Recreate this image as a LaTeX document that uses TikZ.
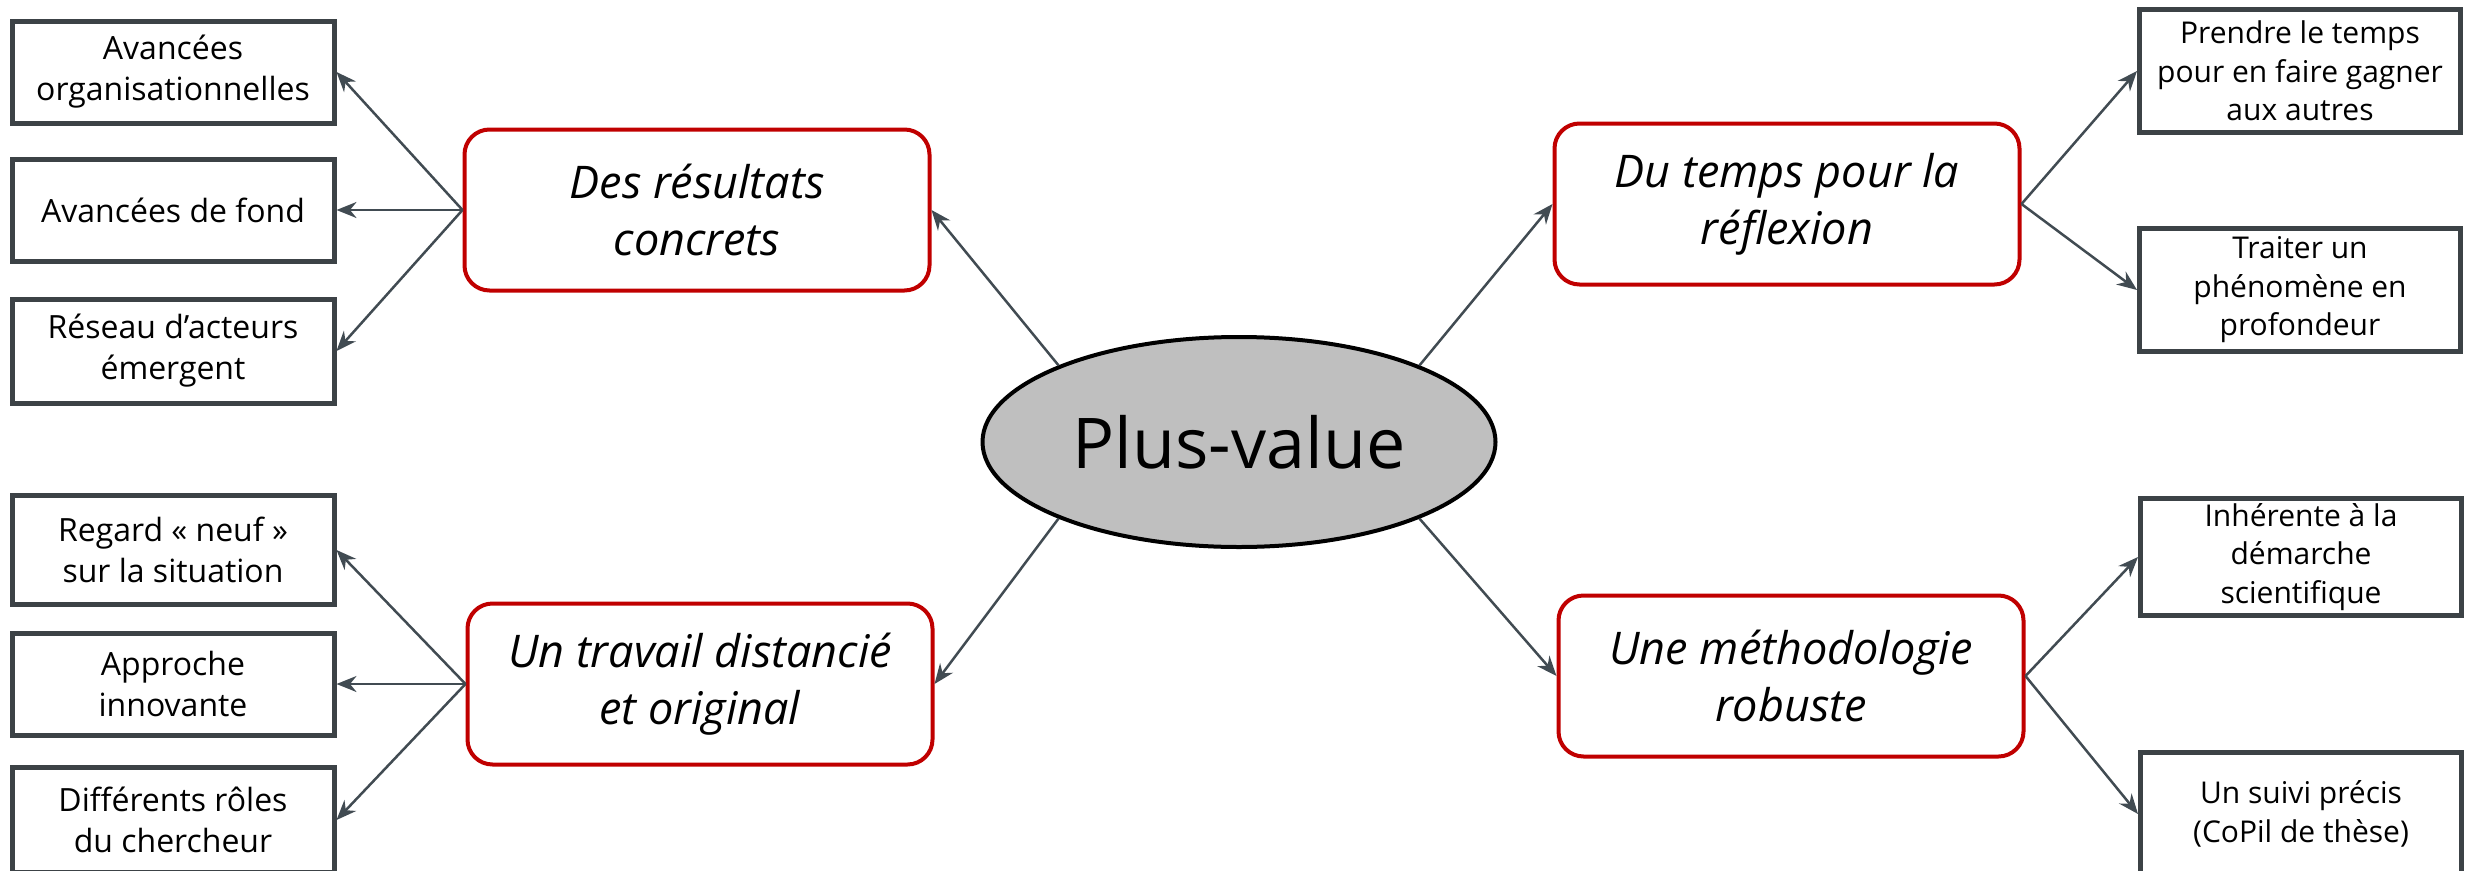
\documentclass[tikz,border=0pt]{standalone}
\usepackage{fontspec}
\setmainfont{Open Sans}
\usetikzlibrary{arrows.meta,shapes.geometric}
\definecolor{boxred}{HTML}{C00000}
\definecolor{boxgray}{HTML}{3C4246}
\definecolor{linkgray}{HTML}{414B52}
\definecolor{ovalgray}{HTML}{BFBFBF}

\begin{document}
\begin{tikzpicture}[x=1pt,y=-1pt,
        link/.style={draw=linkgray,line width=2.5pt,-{Stealth[length=20pt,width=16pt]}}]
        \useasboundingbox (0,0) rectangle (2468,870);

        \node (P) at (1239,442) [ellipse,draw=black,line width=4pt,fill=ovalgray,
                minimum width=513pt,minimum height=210pt,
                font=\fontsize{70}{84}\selectfont]{Plus-value};

        \begin{scope}[every node/.style={draw=boxred,line width=4pt,rounded corners=25pt,
                        fill=white,minimum width=465pt,minimum height=161pt,align=center,
                        font=\fontsize{45}{57}\selectfont\itshape}]
            \node (A) at (697,210) {Des résultats\\concrets};
            \node (B) at (700,684) {Un travail distancié\\et original};
            \node (C) at (1787,204) {Du temps pour la\\réflexion};
            \node (D) at (1791,676) {Une méthodologie\\robuste};
        \end{scope}

        \begin{scope}[every node/.style={draw=boxgray,line width=5pt,fill=white,
                        minimum width=322pt,align=center,
                        font=\fontsize{32}{41}\selectfont}]
            \node (A1) at (173,72) [minimum height=102pt]{Avancées\\organisationnelles};
            \node (A2) at (173,210) [minimum height=102pt]{Avancées de fond};
            \node (A3) at (173,351) [minimum height=104pt]{Réseau d’acteurs\\émergent};
            \node (B1) at (173,550) [minimum height=109pt]{Regard « neuf »\\sur la situation};
            \node (B2) at (173,684) [minimum height=102pt]{Approche\\innovante};
            \node (B3) at (173,820) [minimum height=105pt]{Différents rôles\\du chercheur};
        \end{scope}

        \begin{scope}[every node/.style={draw=boxgray,line width=5pt,fill=white,
                        minimum width=321pt,minimum height=123pt,align=center,
                        font=\fontsize{30}{38.5}\selectfont}]
            \node (C1) at (2300,71) {Prendre le temps\\pour en faire gagner\\aux autres};
            \node (C2) at (2300,290) {Traiter un\\phénomène en\\profondeur};
            \node (D1) at (2301,557) [minimum height=117pt]{Inhérente à la\\démarche\\scientifique};
            \node (D2) at (2301,814) {Un suivi précis\\(CoPil de thèse)};
        \end{scope}

        \path (P.157) edge[link] (A.east);
        \path (P.203) edge[link] (B.east);
        \path (P.23) edge[link] (C.west);
        \path (P.337) edge[link] (D.west);

        \path (A.west) edge[link] (A1.east);
        \path (A.west) edge[link] (A2.east);
        \path (A.west) edge[link] (A3.east);
        \path (B.west) edge[link] (B1.east);
        \path (B.west) edge[link] (B2.east);
        \path (B.west) edge[link] (B3.east);
        \path (C.east) edge[link] (C1.west);
        \path (C.east) edge[link] (C2.west);
        \path (D.east) edge[link] (D1.west);
        \path (D.east) edge[link] (D2.west);
    \end{tikzpicture}
\end{document}
